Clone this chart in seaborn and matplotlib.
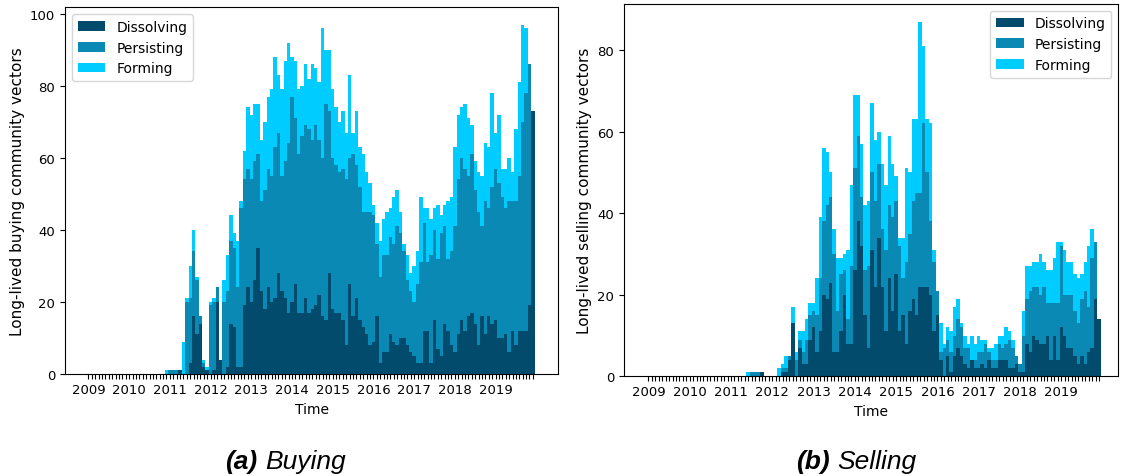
import numpy as np
import pandas as pd
import matplotlib
matplotlib.use("Agg")
import matplotlib.pyplot as plt
import seaborn as sns

# ---------------- data (monthly, Jan 2009 .. Dec 2019) ----------------
years = [2009, 2010, 2011, 2012, 2013, 2014, 2015, 2016, 2017, 2018, 2019]

buy_forming = [
    0, 0, 0, 0, 0, 0, 0, 0, 0, 0, 0, 0,
    0, 0, 0, 0, 0, 0, 0, 0, 0, 0, 0, 1,
    1, 1, 1, 1, 9, 21, 30, 40, 27, 16, 4, 2,
    20, 21, 24, 4, 26, 33, 44, 39, 37, 48, 62, 74,
    72, 75, 75, 65, 70, 77, 79, 88, 83, 79, 87, 92,
    88, 87, 79, 80, 86, 82, 86, 85, 81, 96, 90, 90,
    79, 74, 70, 73, 67, 83, 67, 73, 63, 61, 56, 53,
    47, 42, 37, 43, 45, 46, 49, 51, 45, 36, 33, 28,
    30, 34, 49, 46, 46, 43, 46, 47, 44, 47, 48, 49,
    63, 72, 74, 75, 71, 69, 59, 56, 55, 64, 63, 78,
    67, 72, 57, 57, 60, 56, 68, 81, 97, 96, 86, 0,
]
buy_persisting = [
    0, 0, 0, 0, 0, 0, 0, 0, 0, 0, 0, 0,
    0, 0, 0, 0, 0, 0, 0, 0, 0, 0, 0, 0,
    1, 1, 1, 1, 0, 20, 21, 34, 26, 16, 3, 1,
    19, 20, 24, 4, 20, 23, 37, 35, 24, 46, 54, 57,
    54, 59, 61, 48, 51, 57, 55, 63, 67, 55, 59, 64,
    77, 71, 61, 66, 69, 68, 65, 69, 65, 60, 75, 73,
    60, 58, 56, 57, 54, 60, 61, 58, 52, 45, 45, 45,
    44, 36, 27, 33, 33, 38, 36, 41, 39, 34, 26, 23,
    20, 25, 31, 42, 31, 33, 40, 32, 39, 41, 32, 34,
    41, 54, 60, 57, 55, 61, 51, 45, 41, 48, 46, 52,
    57, 53, 49, 46, 48, 48, 48, 55, 70, 78, 86, 0,
]
buy_dissolving = [
    0, 0, 0, 0, 0, 0, 0, 0, 0, 0, 0, 0,
    0, 0, 0, 0, 0, 0, 0, 0, 0, 0, 0, 0,
    0, 0, 0, 1, 0, 0, 3, 16, 11, 14, 2, 1,
    0, 1, 20, 4, 0, 2, 14, 13, 2, 2, 19, 24,
    20, 26, 35, 23, 18, 24, 20, 21, 28, 23, 21, 17,
    20, 25, 17, 17, 21, 17, 18, 19, 22, 16, 15, 28,
    18, 17, 17, 15, 8, 25, 16, 21, 15, 13, 11, 8,
    9, 16, 3, 6, 6, 11, 9, 8, 10, 10, 8, 6,
    5, 3, 3, 12, 12, 3, 15, 7, 5, 14, 12, 8,
    6, 11, 15, 12, 16, 17, 14, 8, 16, 11, 16, 14,
    15, 10, 10, 11, 6, 12, 8, 12, 12, 12, 19, 73,
]

sell_forming = [
    0, 0, 0, 0, 0, 0, 0, 0, 0, 0, 0, 0,
    0, 0, 0, 0, 0, 0, 0, 0, 0, 0, 0, 0,
    0, 0, 0, 0, 0, 1, 1, 1, 1, 1, 0, 0,
    0, 0, 2, 3, 5, 5, 17, 6, 11, 11, 14, 18,
    18, 24, 39, 56, 55, 50, 36, 29, 29, 30, 31, 47,
    69, 69, 57, 42, 43, 67, 58, 60, 52, 47, 59, 52,
    49, 34, 34, 51, 50, 63, 63, 87, 81, 63, 62, 31,
    21, 13, 8, 12, 11, 17, 19, 13, 10, 8, 10, 8,
    10, 9, 9, 7, 7, 8, 10, 10, 12, 11, 9, 5,
    3, 16, 27, 27, 28, 28, 30, 28, 26, 26, 29, 33,
    33, 31, 28, 28, 25, 24, 25, 28, 32, 36, 33, 0,
]
sell_persisting = [
    0, 0, 0, 0, 0, 0, 0, 0, 0, 0, 0, 0,
    0, 0, 0, 0, 0, 0, 0, 0, 0, 0, 0, 0,
    0, 0, 0, 0, 0, 0, 1, 1, 1, 1, 0, 0,
    0, 0, 0, 2, 2, 5, 13, 4, 9, 6, 9, 15,
    16, 15, 24, 38, 42, 44, 30, 16, 25, 26, 14, 27,
    51, 59, 44, 26, 27, 50, 43, 52, 36, 31, 42, 39,
    43, 32, 24, 28, 35, 43, 45, 45, 62, 50, 38, 28,
    21, 6, 7, 9, 6, 10, 14, 12, 7, 7, 4, 4,
    6, 6, 8, 6, 4, 4, 8, 7, 8, 9, 7, 5,
    3, 10, 19, 21, 22, 22, 20, 22, 18, 18, 18, 18,
    32, 20, 20, 20, 16, 13, 19, 21, 17, 29, 33, 0,
]
sell_dissolving = [
    0, 0, 0, 0, 0, 0, 0, 0, 0, 0, 0, 0,
    0, 0, 0, 0, 0, 0, 0, 0, 0, 0, 0, 0,
    0, 0, 0, 0, 0, 0, 0, 0, 0, 1, 0, 0,
    0, 0, 0, 1, 1, 4, 13, 0, 7, 3, 3, 9,
    12, 6, 11, 20, 19, 23, 6, 6, 11, 20, 8, 8,
    26, 38, 32, 15, 7, 31, 22, 34, 22, 11, 24, 16,
    25, 11, 15, 8, 16, 19, 15, 22, 22, 22, 20, 11,
    15, 4, 0, 5, 1, 5, 7, 5, 3, 2, 4, 2,
    2, 3, 2, 4, 2, 2, 4, 4, 4, 2, 2, 3,
    1, 1, 8, 6, 10, 9, 8, 8, 10, 4, 10, 4,
    12, 10, 7, 7, 5, 3, 5, 3, 6, 7, 19, 14,
]

series_names = ["Dissolving", "Persisting", "Forming"]
colors = {"Dissolving": "#034b6d", "Persisting": "#0a89b5", "Forming": "#00ccff"}

n = len(buy_forming)
months = np.arange(n)

fig = plt.figure(figsize=(11.27, 4.77), dpi=100)
ax1 = fig.add_axes([0.0577, 0.214, 0.4374, 0.769])
ax2 = fig.add_axes([0.5537, 0.209, 0.4386, 0.781])


def draw(ax, forming, persisting, dissolving, ylabel, ymax, xlim, loc):
    for name, vals in (("Forming", forming), ("Persisting", persisting),
                       ("Dissolving", dissolving)):
        df = pd.DataFrame({"month": months, "count": vals})
        sns.barplot(data=df, x="month", y="count", native_scale=True, width=1,
                    color=colors[name], saturation=1, linewidth=0,
                    errorbar=None, ax=ax, label=name)
    ticks = list(months)
    labels = [str(years[i // 12]) if i % 12 == 0 else "" for i in ticks]
    ax.set_xticks(ticks)
    ax.set_xticklabels(labels)
    ax.tick_params(axis="x", length=3.5, width=0.8, labelsize=9.5, pad=3)
    ax.tick_params(axis="y", labelsize=9.5)
    ax.set_xlim(*xlim)
    ax.set_ylim(0, ymax)
    ax.set_xlabel("Time", fontsize=10)
    ax.set_ylabel(ylabel, fontsize=11)
    h, l = ax.get_legend_handles_labels()
    order = [l.index(s) for s in series_names]
    ax.legend([h[i] for i in order], [l[i] for i in order], loc=loc, fontsize=10)


draw(ax1, buy_forming, buy_persisting, buy_dissolving,
     "Long-lived buying community vectors", 101.85, (-6.9, 138.4), "upper left")
draw(ax2, sell_forming, sell_persisting, sell_dissolving,
     "Long-lived selling community vectors", 91.35, (-7.1, 136.6), "upper right")
ax1.set_yticks([0, 20, 40, 60, 80, 100])
ax2.set_yticks([0, 20, 40, 60, 80])

cap = dict(family="Liberation Sans", size=19, style="italic", va="baseline")
fig.text(0.228, 0.017, "(a)", ha="right", weight="bold", **cap)
fig.text(0.235, 0.017, "Buying", ha="left", **cap)
fig.text(0.7365, 0.017, "(b)", ha="right", weight="bold", **cap)
fig.text(0.7427, 0.017, "Selling", ha="left", **cap)

fig.savefig("out.png", dpi=100)
